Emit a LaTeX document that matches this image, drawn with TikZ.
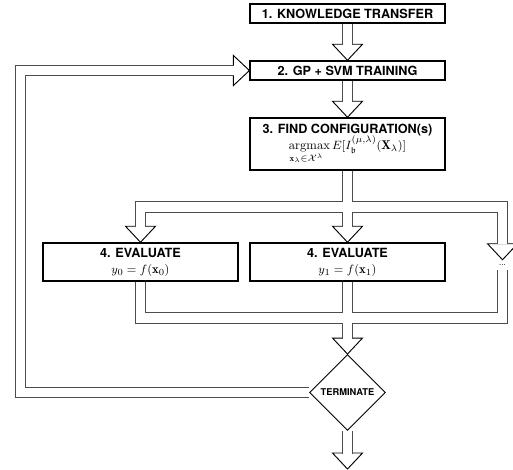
\documentclass[tikz,border=0pt]{standalone}
\usepackage{amsmath,amssymb}
\usepackage{fontspec}
\setsansfont{TeX Gyre Heros}
\usetikzlibrary{shapes.geometric,backgrounds}

\begin{document}
\begin{tikzpicture}[x=0.75pt, y=-0.75pt, every node/.style={font=\sffamily\bfseries\fontsize{9.5}{12}\selectfont}]
  \tikzstyle{box}=[rectangle, draw=black, line width=1.1pt, fill=white,
  minimum width=146pt, align=center, inner sep=1pt]
  \tikzstyle{pipe}=[draw=black!70, line width=0.6pt, double=white, double distance=7.3pt]
  \tikzstyle{head}=[draw=black, fill=white, line width=0.7pt, line join=miter]
  \useasboundingbox (0,0) rectangle (513,469);
  \node[box, minimum height=14.25pt] (transfer) at (347.5,13.5) {1. KNOWLEDGE TRANSFER};
  \node[box, minimum height=14.25pt] (train) at (347.5,70.5) {2. GP + SVM TRAINING};
  \node[box, minimum height=39pt] (find) at (347.5,144) {3. FIND CONFIGURATION(s)\\
    $\underset{\mathbf{x}_\lambda\in\mathcal{X}^\lambda\;\;}{\mathrm{argmax}}\,E[I_{\mathfrak{b}}^{(\mu,\lambda)}(\mathbf{X}_\lambda)]$};
  \node[box, minimum height=28.5pt] (evalA) at (140.5,262) {4. EVALUATE\\ $y_0 = f(\mathbf{x}_0)$};
  \node[box, minimum height=28.5pt] (evalB) at (347.5,262) {4. EVALUATE\\ $y_1 = f(\mathbf{x}_1)$};
  \node[inner sep=0pt, minimum height=7.5pt, font=\sffamily\fontsize{6}{6}\selectfont] (more) at (502.5,265) {...};
  \node[diamond, draw=black, line width=0.7pt, fill=white, aspect=1, inner sep=0pt,
  minimum size=57pt, font=\sffamily\bfseries\fontsize{7}{8}\selectfont] (stop) at (347.5,392.5) {TERMINATE};
  \coordinate (split) at (347.5,207);
  \coordinate (join) at (347.5,318);
  \coordinate (back) at (20.5,0);
  \coordinate (out) at (347.5,469);
  \begin{scope}[on background layer]
    % open heads
    \draw[head] (train.north) -- ++(-15,-16) -- ++(30,0) -- cycle;
    \draw[head] (find.north) -- ++(-15,-16) -- ++(30,0) -- cycle;
    \draw[head] (evalA.north) -- ++(-15,-16) -- ++(30,0) -- cycle;
    \draw[head] (evalB.north) -- ++(-15,-16) -- ++(30,0) -- cycle;
    \draw[head] (more.north) -- ++(-15,-16) -- ++(30,0) -- cycle;
    \draw[head] (stop.north) -- ++(-15,-16) -- ++(30,0) -- cycle;
    \draw[head] (out) -- ++(-15,-16) -- ++(30,0) -- cycle;
    \draw[head] (train.west) -- ++(-16,-15) -- ++(0,30) -- cycle;
    % pipes
    \draw[pipe] (transfer.south) -- ([yshift=11.6pt]train.north);
    \draw[pipe] (train.south) -- ([yshift=11.6pt]find.north);
    \draw[pipe] (find.south) -- ([yshift=11.6pt]evalB.north)
      ([yshift=11.6pt]evalA.north) |- (split) -| ([yshift=11.6pt]more.north);
    \draw[pipe] (evalA.south) |- (join) -| (more.south)
      (evalB.south) -- ([yshift=11.6pt]stop.north);
    \draw[pipe] (stop.west) -| (back |- train.west) -- ([xshift=-11.6pt]train.west);
    \draw[pipe] (stop.south) -- ([yshift=11.6pt]out);
  \end{scope}
\end{tikzpicture}
\end{document}
